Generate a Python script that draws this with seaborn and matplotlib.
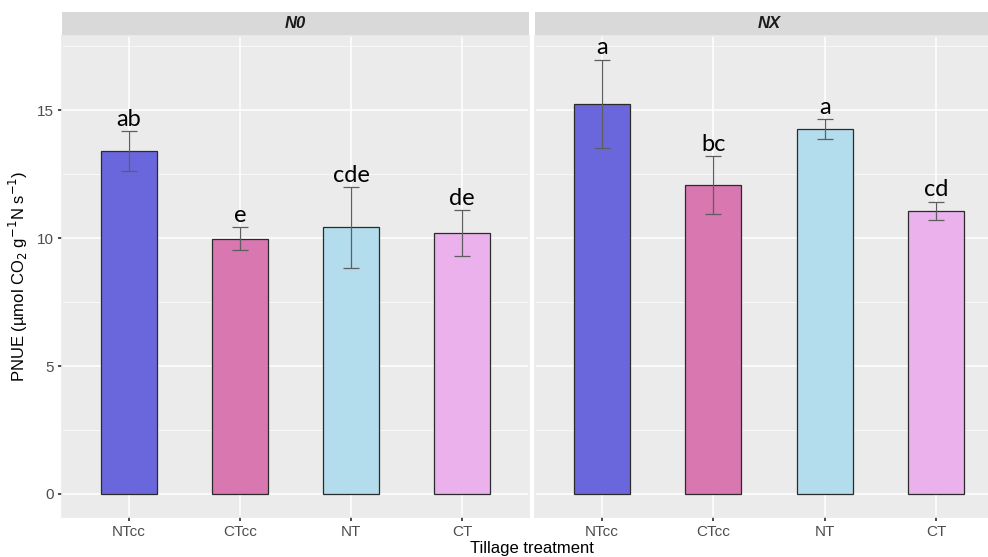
import pandas as pd
import seaborn as sns
import matplotlib.pyplot as plt
from matplotlib.patches import Rectangle

# values
treatments = ["NTcc", "CTcc", "NT", "CT"]
n_levels = ["N0", "NX"]
pnue_n0 = [13.42, 9.97, 10.43, 10.2]
se_n0 = [0.78, 0.45, 1.58, 0.9]
pnue_nx = [15.25, 12.08, 14.27, 11.07]
se_nx = [1.73, 1.13, 0.38, 0.36]
letters_n0 = ["ab", "e", "cde", "de"]
letters_nx = ["a", "bc", "a", "cd"]
bar_colors = ["#6a67dd", "#d877b0", "#b3dcec", "#ebb1ec"]

df = pd.DataFrame({
    "treatment": treatments * 2,
    "N": [n_levels[0]] * 4 + [n_levels[1]] * 4,
    "pnue": pnue_n0 + pnue_nx,
    "se": se_n0 + se_nx,
    "letter": letters_n0 + letters_nx,
})

sns.set_theme(style="darkgrid", rc={
    "axes.facecolor": "#ebebeb",
    "grid.color": "white",
    "axes.edgecolor": "#ebebeb",
    "figure.facecolor": "white",
})
plt.rcParams['font.family'] = ['Liberation Sans', 'DejaVu Sans']

fig = plt.figure(figsize=(9.88, 5.57), dpi=100)
W, H = 988, 557
bottom = 1 - 517 / H
height = (517 - 36) / H
ax1 = fig.add_axes([62 / W, bottom, 467 / W, height])
ax2 = fig.add_axes([535 / W, bottom, 468 / W, height])
palette = dict(zip(treatments, bar_colors))

for ax, lev in zip([ax1, ax2], n_levels):
    sub = df[df["N"] == lev]
    sns.barplot(data=sub, x="treatment", y="pnue", hue="treatment", palette=palette,
                order=treatments, width=0.5, edgecolor="#2b2b2b", linewidth=0.9,
                legend=False, errorbar=None, saturation=1, ax=ax, zorder=3)
    ax.errorbar(range(4), sub["pnue"], yerr=sub["se"], fmt="none", ecolor="#5e5e5e",
                elinewidth=0.9, capsize=6, capthick=0.9, zorder=4)
    for i, (m, s, l) in enumerate(zip(sub["pnue"], sub["se"], sub["letter"])):
        ax.text(i, m + s + 0.2, l, ha="center", va="baseline", fontsize=17,
                family=["Lato", "DejaVu Sans"], color="black", zorder=5)
    ax.set_xlim(-0.6, 3.6)
    ax.set_ylim(-0.9, 17.9)
    ax.set_yticks([0, 5, 10, 15])
    ax.set_yticks([2.5, 7.5, 12.5, 17.5], minor=True)
    ax.grid(True, which="major", linewidth=1.1, color="white", zorder=0)
    ax.grid(True, which="minor", axis="y", linewidth=0.5, color="white", zorder=0)
    ax.set_axisbelow(True)
    ax.tick_params(axis="both", which="major", length=3, color="#333333", labelsize=11,
                   labelcolor="#4d4d4d", pad=3, left=True, bottom=True)
    ax.tick_params(axis="y", which="minor", length=0)
    ax.set_xlabel("")
    ax.set_ylabel("")
    # facet strip
    ax.add_patch(Rectangle((0, 1), 1, 24 / 481, transform=ax.transAxes,
                           facecolor="#d9d9d9", edgecolor="none", clip_on=False))
    ax.text(0.5, 1 + 12 / 481, lev, transform=ax.transAxes, ha="center", va="center",
            fontsize=12, fontweight="bold", fontstyle="italic", color="#1a1a1a")

ax2.set_yticklabels([])
ax2.tick_params(axis="y", left=False)

ax1.set_ylabel("PNUE (µmol CO$_2$ g$^{-1}$N s$^{-1}$)", fontsize=12, color="black", labelpad=5)
fig.text(532 / W, 1 - 548 / H, "Tillage treatment", ha="center", va="center",
         fontsize=12, color="black")

fig.savefig("out.png", dpi=100)
